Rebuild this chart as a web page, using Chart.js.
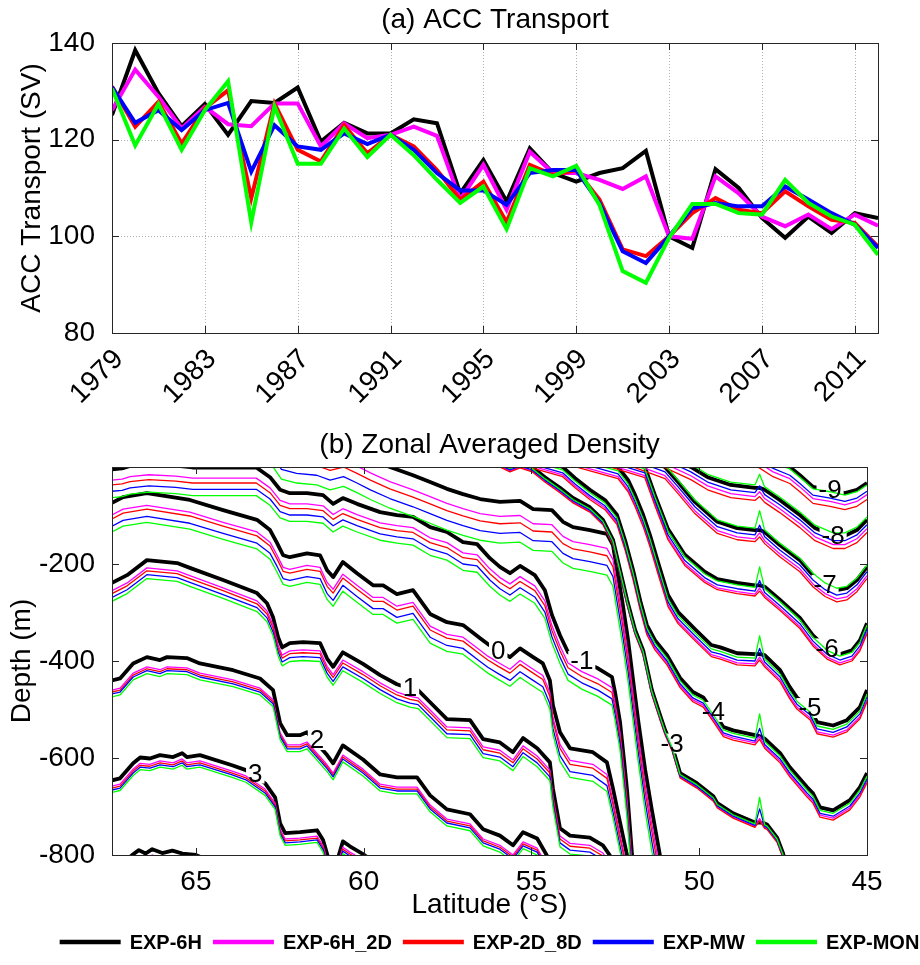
<!DOCTYPE html>
<html>
<head>
<meta charset="utf-8">
<script src="https://cdn.jsdelivr.net/npm/chart.js@4.4.1/dist/chart.umd.min.js"></script>
<style>
  html, body { margin: 0; padding: 0; background: #fff; }
  #wrap { position: relative; width: 920px; height: 965px; }
  #accBox { position: absolute; left: 0; top: 0; }
  #densBox { position: absolute; left: 0; top: 420px; }
</style>
</head>
<body>
<div id="wrap">
  <div id="accBox"><canvas id="acc" width="920" height="420"></canvas></div>
  <div id="densBox"><canvas id="dens" width="920" height="545"></canvas></div>
</div>
<script>
// ============================================================
// (a) ACC transport (Sv) per year, five experiments
// ============================================================
const YEARS = [1979, 1980, 1981, 1982, 1983, 1984, 1985, 1986, 1987, 1988, 1989, 1990, 1991, 1992, 1993, 1994, 1995,
               1996, 1997, 1998, 1999, 2000, 2001, 2002, 2003, 2004, 2005, 2006, 2007, 2008, 2009, 2010, 2011, 2012];
const YEAR_TICKS = [1979, 1983, 1987, 1991, 1995, 1999, 2003, 2007, 2011];
const SV_TICKS = [80, 100, 120, 140];

const ACC_6H   = [125.1, 138.5, 129.6, 122.8, 127.4, 121.0, 128.0, 127.6, 130.8, 119.6, 123.5, 121.3, 121.3, 124.2, 123.4, 108.9, 115.8,
                  107.2, 118.2, 113.1, 111.3, 113.1, 114.1, 117.7, 100.0, 97.6, 113.9, 110.0, 103.8, 99.7, 104.1, 100.7, 104.8, 103.8];
const ACC_6H2D = [126.1, 134.5, 128.9, 122.3, 126.8, 123.2, 122.8, 127.5, 127.5, 118.6, 123.4, 120.3, 121.0, 122.7, 120.8, 107.6, 114.8,
                  105.5, 117.5, 113.1, 113.1, 111.7, 109.8, 112.4, 100.0, 99.5, 112.4, 108.9, 104.1, 102.1, 104.5, 101.5, 104.5, 102.2];
const ACC_2D8D = [131.0, 122.7, 127.8, 119.2, 126.5, 130.2, 107.9, 127.5, 117.9, 115.5, 123.0, 117.2, 121.0, 118.6, 113.7, 107.6, 111.3,
                  102.9, 114.8, 112.7, 113.7, 107.6, 97.3, 95.9, 100.0, 104.8, 107.9, 105.5, 104.8, 109.3, 106.2, 103.4, 102.8, 97.9];
const ACC_MW   = [130.9, 123.5, 126.1, 122.0, 126.1, 127.6, 113.4, 123.0, 118.6, 117.9, 121.3, 119.1, 121.0, 117.9, 113.1, 109.5, 109.5,
                  106.5, 113.1, 113.7, 113.7, 106.9, 96.9, 94.5, 100.0, 105.8, 106.9, 106.2, 106.2, 110.3, 107.6, 104.8, 102.4, 97.6];
const ACC_MON  = [130.6, 118.8, 127.4, 117.9, 126.1, 132.1, 102.9, 126.9, 115.0, 115.0, 122.3, 116.4, 121.0, 116.8, 111.7, 106.9, 110.3,
                  101.5, 114.1, 112.4, 114.6, 106.5, 92.8, 90.4, 99.7, 106.7, 106.7, 104.8, 104.5, 111.7, 106.9, 104.1, 102.4, 96.2];

// ============================================================
// (b) zonal averaged density: EXP-6H contours, latitude (°S) / depth (m)
// ============================================================
const LAT_P4 = [67.5, 67.2, 66.9, 66.7, 66.5, 66.3, 66.0, 65.7, 65.4, 65.0, 64.6, 64.2];
const DEP_P4 = [-835, -820, -800, -790, -797, -788, -796, -791, -797, -800, -812, -830];

const LAT_P3 = [67.5, 67.26, 66.87, 66.66, 66.37, 66.07, 65.68, 65.41, 65.27, 64.88, 63.92, 63.51, 62.94, 62.64, 62.49, 62.34,
                61.90, 61.39, 61.21, 61.06, 60.79, 60.62, 60.41, 60.02, 59.7];
const DEP_P3 = [-646, -642, -611, -599, -601, -594, -598, -590, -598, -594, -615, -625, -652, -681, -735, -755,
                -753, -749, -769, -805, -812, -772, -782, -798, -815];

const LAT_P2 = [67.5, 67.26, 66.87, 66.46, 66.07, 65.86, 65.27, 64.88, 63.89, 63.09, 62.70, 62.49, 62.28, 61.90, 61.69, 61.09,
                60.91, 60.62, 60.02, 59.51, 59.01, 58.41, 58.02, 57.52, 56.83, 56.44, 55.94, 55.55, 55.25, 54.83, 54.54, 54.4];
const DEP_P2 = [-440, -436, -405, -392, -398, -392, -394, -405, -419, -436, -460, -528, -553, -553, -547, -594,
                -611, -574, -603, -634, -640, -640, -677, -706, -716, -747, -760, -780, -753, -766, -801, -830];

const LAT_P1 = [67.5, 67.05, 66.46, 65.56, 65.18, 64.19, 63.18, 62.88, 62.70, 62.55, 62.43, 62.20, 61.81, 61.30, 61.09, 60.91,
                60.62, 60.02, 59.51, 59.01, 58.62, 58.38, 58.02, 57.52, 56.83, 56.44, 55.94, 55.55, 55.25, 54.83, 54.45, 54.36,
                54.15, 53.85, 53.26, 52.87, 52.66, 52.55];
const DEP_P1 = [-239, -223, -192, -198, -208, -233, -260, -281, -310, -351, -372, -363, -361, -363, -395, -412,
                -382, -406, -429, -448, -457, -460, -485, -520, -522, -561, -568, -588, -559, -580, -609, -663,
                -745, -760, -764, -780, -801, -830];

const LAT_0 = [67.5, 67.17, 66.46, 65.18, 64.19, 63.18, 62.79, 62.58, 62.40, 62.20, 61.69, 61.30, 61.09, 60.91, 60.62, 60.20,
               59.72, 59.42, 59.01, 58.53, 58.02, 57.52, 57.04, 56.53, 56.30, 55.99, 55.64, 55.34, 54.95, 54.66, 54.45, 54.36,
               54.15, 53.85, 53.17, 52.75, 52.57, 52.36, 52.15, 52.05];
const DEP_0 = [-74, -62, -54, -68, -89, -109, -130, -157, -182, -186, -178, -182, -213, -227, -196, -219,
               -244, -244, -262, -254, -303, -320, -326, -353, -365, -378, -392, -374, -392, -405, -440, -491,
               -547, -580, -588, -609, -663, -733, -801, -830];

const LAT_M1 = [67.5, 67.2, 66.96, 66.4, 65.6, 65.1, 64.0, 63.2, 62.79, 62.49, 62.20, 61.69, 61.21, 60.91, 60.62, 60.20,
                59.51, 59.01, 58.53, 58.02, 57.52, 57.04, 56.62, 56.24, 55.94, 55.64, 55.34, 54.90, 54.60, 54.39, 54.15,
                53.91, 53.50, 53.02, 52.60, 52.51, 52.36, 52.24, 52.15, 52.00, 51.95];
const DEP_M1 = [-5, -3, 2, 6, 3, -1, -1, -1, -21, -47, -54, -54, -58, -76, -64, -76,
                -93, -99, -103, -124, -134, -155, -159, -188, -206, -219, -204, -223, -254, -305, -347,
                -382, -400, -415, -433, -464, -526, -605, -667, -801, -830];

const LAT_M2 = [63.5, 62.8, 62.45, 62.0, 61.4, 61.0, 60.6, 60.2, 59.8, 59.22, 58.53, 58.02, 57.52, 57.04, 56.53, 55.94,
                55.34, 54.95, 54.39, 54.06, 53.76, 53.26, 52.75, 52.57, 52.45, 52.30, 52.12, 51.97, 51.82, 51.61, 51.41,
                51.17, 51.1];
const DEP_M2 = [110, 95, 60, 52, 48, 38, 45, 32, 18, 0, -17, -31, -45, -56, -66, -72,
                -70, -87, -89, -113, -124, -130, -138, -161, -212, -274, -357, -440, -522, -625, -708,
                -801, -830];

const LAT_M3 = [56.6, 56.0, 55.64, 55.34, 54.98, 54.60, 54.15, 53.76, 53.26, 52.87, 52.57, 52.36, 52.15, 51.91, 51.67, 51.41,
                51.17, 51.02, 50.81, 50.57, 50.07, 49.58, 49.46, 48.99, 48.34, 48.2, 48.05, 47.98, 47.68, 47.50, 47.38];
const DEP_M3 = [30, 12, 0, 8, 0, -21, -43, -64, -83, -109, -150, -212, -274, -336, -378, -460,
                -511, -542, -575, -631, -652, -679, -693, -714, -733, -733, -735, -737, -764, -797, -830];

const LAT_M4 = [55.6, 54.07, 53.70, 53.26, 52.81, 52.45, 52.21, 51.97, 51.76, 51.56, 51.32, 50.96, 50.57, 50.19, 49.88,
                49.58, 49.28, 48.99, 48.34, 48.2, 48.05, 47.59, 47.30, 46.79, 46.61, 46.40, 46.01, 45.51, 45.21, 45.0];
const DEP_M4 = [30, 0, -23, -47, -68, -99, -151, -213, -275, -326, -357, -388, -435, -464, -475,
                -505, -536, -543, -553, -555, -560, -590, -619, -660, -673, -702, -708, -687, -660, -631];

const LAT_M5 = [54.5, 52.42, 52.12, 51.91, 51.67, 51.47, 51.23, 50.93, 50.63, 50.13, 49.64, 49.37, 48.87, 48.34, 48.2,
                48.05, 47.59, 47.30, 47.09, 46.70, 46.49, 46.01, 45.60, 45.21, 45.0];
const DEP_M5 = [40, 0, -27, -58, -99, -140, -196, -264, -299, -334, -367, -372, -384, -386, -386,
                -388, -419, -454, -475, -497, -526, -533, -522, -495, -460];

const LAT_M6 = [53.5, 51.62, 51.32, 50.93, 50.43, 49.84, 49.46, 48.87, 48.34, 48.2, 48.05, 47.59, 47.0, 46.61, 46.19,
                45.81, 45.45, 45.21, 45.0];
const DEP_M6 = [40, 0, -58, -128, -181, -216, -231, -239, -244, -244, -247, -274, -311, -347, -374,
                -386, -378, -357, -322];

const LAT_M7 = [52.6, 51.02, 50.63, 50.13, 49.46, 48.87, 48.34, 48.2, 48.05, 47.6, 47.0, 46.61, 46.25, 45.90, 45.60, 45.30, 45.0];
const DEP_M7 = [40, 0, -31, -72, -113, -126, -130, -130, -134, -161, -192, -223, -243, -254, -250, -233, -206];

const LAT_M8 = [51.5, 50.25, 49.75, 49.06, 48.34, 48.2, 48.05, 47.6, 47.0, 46.55, 46.01, 45.66, 45.30, 45.0];
const DEP_M8 = [40, 0, -21, -37, -43, -43, -47, -68, -99, -126, -142, -142, -130, -109];

const LAT_M9 = [48.5, 47.8, 47.3, 47.0, 46.61, 46.10, 45.66, 45.30, 45.0];
const DEP_M9 = [45, 14, 0, -17, -41, -47, -54, -47, -33];

// depth shift (m) of each experiment's contour relative to EXP-6H, order P4,P3,P2,P1,0,M1..M9
const OFF_6H2D = [-12, -12, -20, -16, -25, -22, -30, -8, -16, -20, -18, -18, -18, -24];
const OFF_2D8D = [-16, -16, -24, -22, -33, -32, -45, -10, -20, -24, -22, -24, -26, -34];
const OFF_MW   = [-20, -20, -28, -30, -48, -45, -65, -6, -12, -14, -12, -10, -10, -17];
const OFF_MON  = [-25, -25, -34, -38, -60, -58, -85, -3, -6, -8, -4, 4, 6, -4];

// spike near 48.2°S seen in the other experiments (m, upward)
const SPIKE_LAT = 48.2;
const SPK_6H2D = [0, 0, 0, 0, 0, 0, 0, 16, 16, 14, 12, 12, 10, 0];
const SPK_2D8D = [0, 0, 0, 0, 0, 0, 0, 14, 14, 12, 10, 10, 8, 0];
const SPK_MW   = [0, 0, 0, 0, 0, 0, 0, 34, 28, 26, 22, 20, 14, 0];
const SPK_MON  = [0, 0, 0, 0, 0, 0, 0, 55, 52, 46, 42, 36, 22, 0];

// inline contour labels
const LABEL_TEXT = ['3', '2', '1', '0', '-1', '-3', '-4', '-5', '-6', '-7', '-8', '-9'];
const LABEL_LAT  = [63.23, 61.39, 58.62, 55.99, 53.50, 50.81, 49.58, 46.70, 46.19, 46.25, 46.01, 46.10];
const LABEL_DEP  = [-632, -563, -456, -378, -400, -570, -505, -497, -374, -243, -142, -47];

const LAT_TICKS = [65, 60, 55, 50, 45];
const DEPTH_TICKS = [-800, -600, -400, -200];

const EXP_NAMES  = ['EXP-6H', 'EXP-6H_2D', 'EXP-2D_8D', 'EXP-MW', 'EXP-MON'];
const EXP_COLORS = ['#000000', '#ff00ff', '#ff0000', '#0000ff', '#00ff00'];

const FONT = "'Liberation Sans', Arial, sans-serif";

const CONTOURS = [
  [LAT_P4, DEP_P4], [LAT_P3, DEP_P3], [LAT_P2, DEP_P2], [LAT_P1, DEP_P1], [LAT_0, DEP_0],
  [LAT_M1, DEP_M1], [LAT_M2, DEP_M2], [LAT_M3, DEP_M3], [LAT_M4, DEP_M4], [LAT_M5, DEP_M5],
  [LAT_M6, DEP_M6], [LAT_M7, DEP_M7], [LAT_M8, DEP_M8], [LAT_M9, DEP_M9],
];

// all contours of one experiment in a single dataset, broken by null points
function contourPoints(offsets, spikes) {
  const pts = [];
  CONTOURS.forEach(([lats, deps], k) => {
    lats.forEach((lat, i) => {
      let d = deps[i];
      if (offsets) d += offsets[k] + (lat === SPIKE_LAT ? spikes[k] : 0);
      pts.push({ x: lat, y: d });
    });
    pts.push({ x: lats[lats.length - 1], y: null });
  });
  return pts;
}

// ---- shared plugins ----
const panelPlugin = {
  id: 'panel',
  beforeDatasetsDraw(chart, args, opts) {
    if (!opts.grid) return;
    const { ctx, chartArea: a, scales: { x, y } } = chart;
    ctx.save();
    ctx.strokeStyle = '#b0b0b0';
    ctx.lineWidth = 1;
    ctx.setLineDash([1, 2]);
    ctx.beginPath();
    x.ticks.forEach(t => {
      const px = Math.round(x.getPixelForValue(t.value)) + 0.5;
      ctx.moveTo(px, a.top); ctx.lineTo(px, a.bottom);
    });
    y.ticks.forEach(t => {
      const py = Math.round(y.getPixelForValue(t.value)) + 0.5;
      ctx.moveTo(a.left, py); ctx.lineTo(a.right, py);
    });
    ctx.stroke();
    ctx.restore();
  },
  afterDraw(chart, args, opts) {
    const { ctx, chartArea: a, scales: { x, y } } = chart;
    const tl = 7;
    ctx.save();
    ctx.strokeStyle = '#262626';
    ctx.lineWidth = 1;
    ctx.strokeRect(Math.round(a.left) + 0.5, Math.round(a.top) + 0.5, Math.round(a.width), Math.round(a.height));
    ctx.beginPath();
    x.ticks.forEach(t => {
      const px = Math.round(x.getPixelForValue(t.value)) + 0.5;
      ctx.moveTo(px, a.bottom); ctx.lineTo(px, a.bottom - tl);
      ctx.moveTo(px, a.top); ctx.lineTo(px, a.top + tl);
    });
    y.ticks.forEach(t => {
      const py = Math.round(y.getPixelForValue(t.value)) + 0.5;
      ctx.moveTo(a.left, py); ctx.lineTo(a.left + tl, py);
      ctx.moveTo(a.right, py); ctx.lineTo(a.right - tl, py);
    });
    ctx.stroke();
    ctx.fillStyle = '#000';
    ctx.font = `28px ${FONT}`;
    ctx.textAlign = 'center';
    ctx.textBaseline = 'middle';
    ctx.fillText(opts.title, (a.left + a.right) / 2, opts.titleY);
    ctx.restore();
  },
};

// contour labels: gap cut into the black line, text on top of everything
const contourLabelPlugin = {
  id: 'clabels',
  afterDatasetDraw(chart, args) {
    if (args.index !== 0) return;
    const { ctx, scales: { x, y } } = chart;
    ctx.save();
    ctx.font = `26px ${FONT}`;
    ctx.fillStyle = '#fff';
    LABEL_TEXT.forEach((txt, i) => {
      const px = x.getPixelForValue(LABEL_LAT[i]);
      const py = y.getPixelForValue(LABEL_DEP[i]);
      const w = ctx.measureText(txt).width;
      ctx.fillRect(px - w / 2 - 2, py - 10, w + 4, 20);
    });
    ctx.restore();
  },
  afterDatasetsDraw(chart) {
    const { ctx, scales: { x, y } } = chart;
    ctx.save();
    ctx.font = `26px ${FONT}`;
    ctx.textAlign = 'center';
    ctx.textBaseline = 'middle';
    ctx.fillStyle = '#000';
    LABEL_TEXT.forEach((txt, i) => {
      ctx.fillText(txt, x.getPixelForValue(LABEL_LAT[i]), y.getPixelForValue(LABEL_DEP[i]) + 1);
    });
    ctx.restore();
  },
};

const legendRowPlugin = {
  id: 'legendRow',
  afterDraw(chart, args, opts) {
    const { ctx, chartArea: a } = chart;
    ctx.save();
    ctx.font = `bold 20px ${FONT}`;
    const items = chart.data.datasets.map(ds => ({ text: ds.label, color: ds.borderColor, w: ctx.measureText(ds.label).width }));
    const lineLen = 61, gap = 9, sep = 11;
    const total = items.reduce((s, it) => s + lineLen + gap + it.w, 0) + sep * (items.length - 1);
    let x0 = (a.left + a.right) / 2 - total / 2;
    items.forEach(it => {
      ctx.strokeStyle = it.color;
      ctx.lineWidth = 4.5;
      ctx.beginPath();
      ctx.moveTo(x0, opts.y); ctx.lineTo(x0 + lineLen, opts.y);
      ctx.stroke();
      ctx.fillStyle = '#000';
      ctx.textAlign = 'left';
      ctx.textBaseline = 'middle';
      ctx.fillText(it.text, x0 + lineLen + gap, opts.y + 1);
      x0 += lineLen + gap + it.w + sep;
    });
    ctx.restore();
  },
};

const tickFont = { family: FONT, size: 28 };
const titleFont = { family: FONT, size: 28 };

// ---- (a) ACC Transport ----
const accSeries = [ACC_6H, ACC_6H2D, ACC_2D8D, ACC_MW, ACC_MON];
new Chart(document.getElementById('acc'), {
  type: 'line',
  data: {
    datasets: accSeries.map((vals, i) => ({
      label: EXP_NAMES[i],
      data: YEARS.map((yr, j) => ({ x: yr, y: vals[j] })),
      borderColor: EXP_COLORS[i],
      backgroundColor: EXP_COLORS[i],
      borderWidth: 4,
      pointRadius: 0,
      tension: 0,
      order: 5 - i,
      clip: 0,
    })),
  },
  options: {
    responsive: false,
    animation: false,
    events: [],
    layout: { padding: { left: 0, right: 42, top: 43, bottom: 0 } },
    plugins: {
      legend: { display: false },
      tooltip: { enabled: false },
      panel: { title: '(a) ACC Transport', titleY: 20, grid: true },
    },
    scales: {
      x: {
        type: 'linear', min: 1979, max: 2012,
        afterBuildTicks: s => { s.ticks = YEAR_TICKS.map(v => ({ value: v })); },
        afterFit: s => { s.height = 87; },
        grid: { display: false },
        border: { display: false },
        ticks: { font: tickFont, color: '#000', minRotation: 45, maxRotation: 45, autoSkip: false, padding: 2, labelOffset: 7,
                 callback: v => String(v) },
      },
      y: {
        type: 'linear', min: 80, max: 140,
        afterBuildTicks: s => { s.ticks = SV_TICKS.map(v => ({ value: v })); },
        afterFit: s => { s.width = 112; },
        grid: { display: false },
        border: { display: false },
        ticks: { font: tickFont, color: '#000', padding: 9, callback: v => String(v) },
        title: { display: true, text: 'ACC Transport (SV)', font: titleFont, color: '#000', padding: { top: 15, bottom: 0 } },
      },
    },
  },
  plugins: [panelPlugin],
});

// ---- (b) Zonal Averaged Density ----
const expOffsets = [null, OFF_6H2D, OFF_2D8D, OFF_MW, OFF_MON];
const expSpikes = [null, SPK_6H2D, SPK_2D8D, SPK_MW, SPK_MON];
new Chart(document.getElementById('dens'), {
  type: 'line',
  data: {
    datasets: EXP_NAMES.map((name, i) => ({
      label: name,
      data: contourPoints(expOffsets[i], expSpikes[i]),
      borderColor: EXP_COLORS[i],
      backgroundColor: EXP_COLORS[i],
      borderWidth: i === 0 ? 3.8 : 1.3,
      borderJoinStyle: 'round',
      pointRadius: 0,
      tension: 0,
      spanGaps: false,
      order: 5 - i,
      clip: 0,
    })),
  },
  options: {
    responsive: false,
    animation: false,
    events: [],
    layout: { padding: { left: 0, right: 53, top: 47, bottom: 35 } },
    plugins: {
      legend: { display: false },
      tooltip: { enabled: false },
      panel: { title: '(b) Zonal Averaged Density', titleY: 25, grid: false },
      legendRow: { y: 522 },
    },
    scales: {
      x: {
        type: 'linear', reverse: true, min: 45, max: 67.5,
        afterBuildTicks: s => { s.ticks = LAT_TICKS.map(v => ({ value: v })); },
        afterFit: s => { s.height = 75; },
        grid: { display: false },
        border: { display: false },
        ticks: { font: tickFont, color: '#000', padding: 2, maxRotation: 0, autoSkip: false, callback: v => String(v) },
        title: { display: true, text: 'Latitude (°S)', font: titleFont, color: '#000', padding: { top: 0, bottom: 8 } },
      },
      y: {
        type: 'linear', min: -800, max: 0,
        afterBuildTicks: s => { s.ticks = DEPTH_TICKS.map(v => ({ value: v })); },
        afterFit: s => { s.width = 112; },
        grid: { display: false },
        border: { display: false },
        ticks: { font: tickFont, color: '#000', padding: 9, callback: v => String(v) },
        title: { display: true, text: 'Depth (m)', font: titleFont, color: '#000', padding: { top: 5, bottom: 0 } },
      },
    },
  },
  plugins: [panelPlugin, contourLabelPlugin, legendRowPlugin],
});
</script>
</body>
</html>
